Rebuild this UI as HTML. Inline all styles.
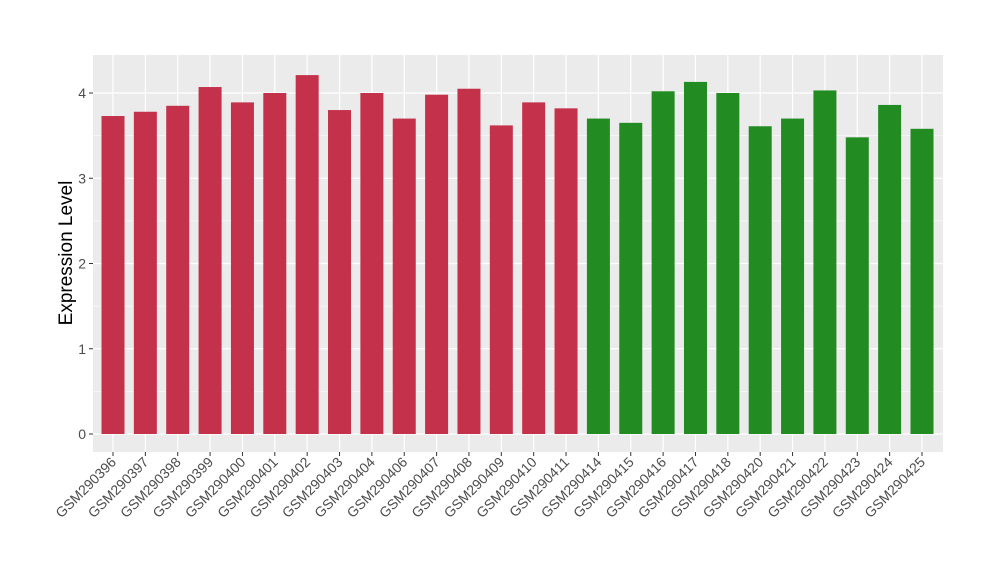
<!DOCTYPE html>
<html><head><meta charset="utf-8"><style>
body{margin:0;background:#fff;font-family:"Liberation Sans",sans-serif;}
</style></head><body>
<svg id="chart" width="1000" height="580" xmlns="http://www.w3.org/2000/svg">
<rect x="93" y="55" width="850" height="397" fill="#ebebeb"/>
<g id="grid"></g><g id="bars"></g><g id="axes"></g>
<text transform="translate(72,253) rotate(-90)" text-anchor="middle" font-size="19" fill="#000">Expression Level</text>
</svg>
<script>
const categories=["GSM290396","GSM290397","GSM290398","GSM290399","GSM290400","GSM290401","GSM290402","GSM290403","GSM290404","GSM290406","GSM290407","GSM290408","GSM290409","GSM290410","GSM290411","GSM290414","GSM290415","GSM290416","GSM290417","GSM290418","GSM290420","GSM290421","GSM290422","GSM290423","GSM290424","GSM290425"];
const values=[3.73,3.78,3.85,4.07,3.89,4.0,4.21,3.80,4.0,3.70,3.98,4.05,3.62,3.89,3.82,3.70,3.65,4.02,4.13,4.0,3.61,3.70,4.03,3.48,3.86,3.58];
const groups=["a","a","a","a","a","a","a","a","a","a","a","a","a","a","a","b","b","b","b","b","b","b","b","b","b","b"];
const yTicks=[0,1,2,3,4];
const ns="http://www.w3.org/2000/svg";
const y=v=>434-v*85.25;
const step=(922-113)/25;
const x=i=>113+i*step;
function mk(t,a,p){const e=document.createElementNS(ns,t);for(const k in a)e.setAttribute(k,a[k]);p.appendChild(e);return e;}
const grid=document.getElementById('grid'),bars=document.getElementById('bars'),axes=document.getElementById('axes');
for(let i=0;i<yTicks.length-1;i++){const g=mk('line',{x1:93,x2:943,y1:y(yTicks[i]+0.5),y2:y(yTicks[i]+0.5),stroke:'#fff','stroke-width':0.6},grid);

}
yTicks.forEach(t=>{const g=mk('line',{x1:93,x2:943,y1:y(t),y2:y(t),stroke:'#fff','stroke-width':1.2},grid);


const tk=mk('line',{x1:89,x2:93,y1:y(t),y2:y(t),stroke:'#333'},axes);


const l=mk('text',{x:86,y:y(t)+5,'text-anchor':'end','font-size':14,fill:'#4d4d4d'},axes);l.textContent=t;

});
categories.forEach((c,i)=>{const g=mk('line',{x1:x(i),x2:x(i),y1:55,y2:452,stroke:'#fff','stroke-width':1.2},grid);


const b=mk('rect',{x:x(i)-11.5,y:y(values[i]),width:23,height:y(0)-y(values[i]),fill:groups[i]==='a'?'#c4314b':'#228b22'},bars);


const tk=mk('line',{x1:x(i),x2:x(i),y1:452,y2:456,stroke:'#333'},axes);


const l=mk('text',{transform:`translate(${x(i)+4},${463}) rotate(-45)`,'text-anchor':'end','font-size':14,fill:'#4d4d4d'},axes);l.textContent=c;

});
</script>
</body></html>
